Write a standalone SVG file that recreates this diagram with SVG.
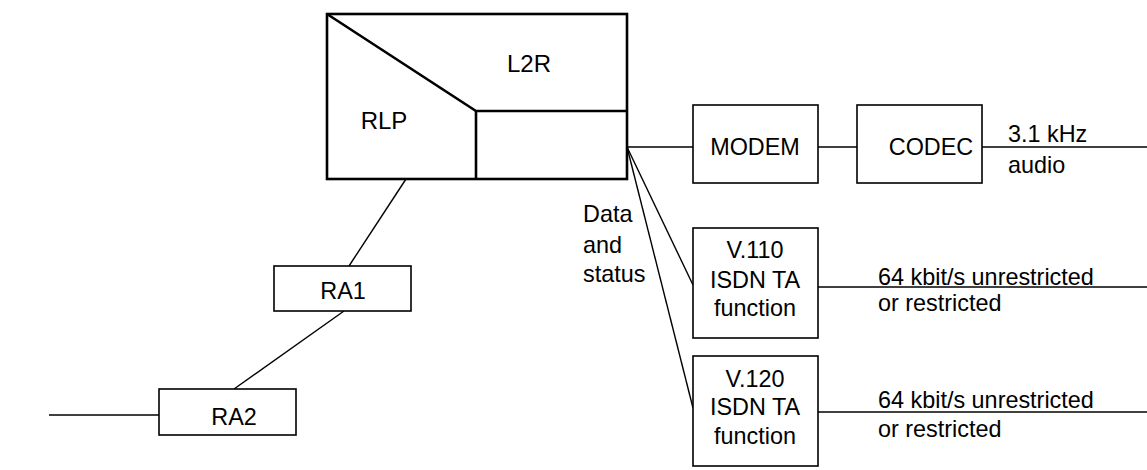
<svg xmlns="http://www.w3.org/2000/svg" width="1147" height="470" viewBox="0 0 1147 470">
<style>
text{font-family:"Liberation Sans",Arial,sans-serif;font-size:23.4px;fill:#000}
.c{text-anchor:middle}
.box{fill:#fff;stroke:#000;stroke-width:1.6}
.thick{fill:none;stroke:#000;stroke-width:2.6}
.ln{fill:none;stroke:#000;stroke-width:1.4}
</style>
<rect width="1147" height="470" fill="#fff"/>
<g id="connectors">
<line class="ln" x1="406" y1="179" x2="349" y2="266"/>
<line class="ln" x1="344" y1="311" x2="234" y2="389"/>
<line class="ln" x1="49" y1="415" x2="159" y2="415"/>
<line class="ln" x1="627" y1="147" x2="693" y2="147"/>
<line class="ln" x1="818" y1="147" x2="857" y2="147"/>
<line class="ln" x1="982" y1="147" x2="1147" y2="147"/>
<line class="ln" x1="627" y1="147" x2="693" y2="285"/>
<line class="ln" x1="627" y1="147" x2="693" y2="408"/>
<line class="ln" x1="818" y1="287" x2="1147" y2="287"/>
<line class="ln" x1="818" y1="412" x2="1147" y2="412"/>
</g>
<g id="rlp-l2r">
<rect class="thick" x="327" y="14" width="300" height="165"/>
<polyline class="thick" points="327,14 476,111 627,111"/>
<line class="thick" x1="476" y1="111" x2="476" y2="179"/>
<text class="c" x="529" y="72" style="font-size:24px">L2R</text>
<text class="c" x="384" y="129" style="font-size:24px">RLP</text>
</g>
<g id="ra1">
<rect class="box" x="274" y="266" width="137" height="45"/>
<text class="c" x="343" y="299">RA1</text>
</g>
<g id="ra2">
<rect class="box" x="159" y="389" width="137" height="46"/>
<text class="c" x="234" y="425">RA2</text>
</g>
<g id="modem">
<rect class="box" x="693" y="105" width="125" height="78"/>
<text class="c" x="755" y="155">MODEM</text>
</g>
<g id="codec">
<rect class="box" x="857" y="105" width="125" height="78"/>
<text class="c" x="931" y="155">CODEC</text>
</g>
<g id="v110">
<rect class="box" x="693" y="228" width="125" height="110"/>
<text class="c" x="755" y="258">V.110</text>
<text class="c" x="755" y="288">ISDN TA</text>
<text class="c" x="755" y="316">function</text>
</g>
<g id="v120">
<rect class="box" x="693" y="356" width="125" height="110"/>
<text class="c" x="755" y="387">V.120</text>
<text class="c" x="755" y="415">ISDN TA</text>
<text class="c" x="755" y="444">function</text>
</g>
<g id="labels">
<text x="1008" y="142">3.1 kHz</text>
<text x="1008" y="173">audio</text>
<text x="583" y="222">Data</text>
<text x="583" y="253">and</text>
<text x="583" y="282">status</text>
<text x="878" y="285">64 kbit/s unrestricted</text>
<text x="878" y="311">or restricted</text>
<text x="878" y="408">64 kbit/s unrestricted</text>
<text x="878" y="437">or restricted</text>
</g>
</svg>
